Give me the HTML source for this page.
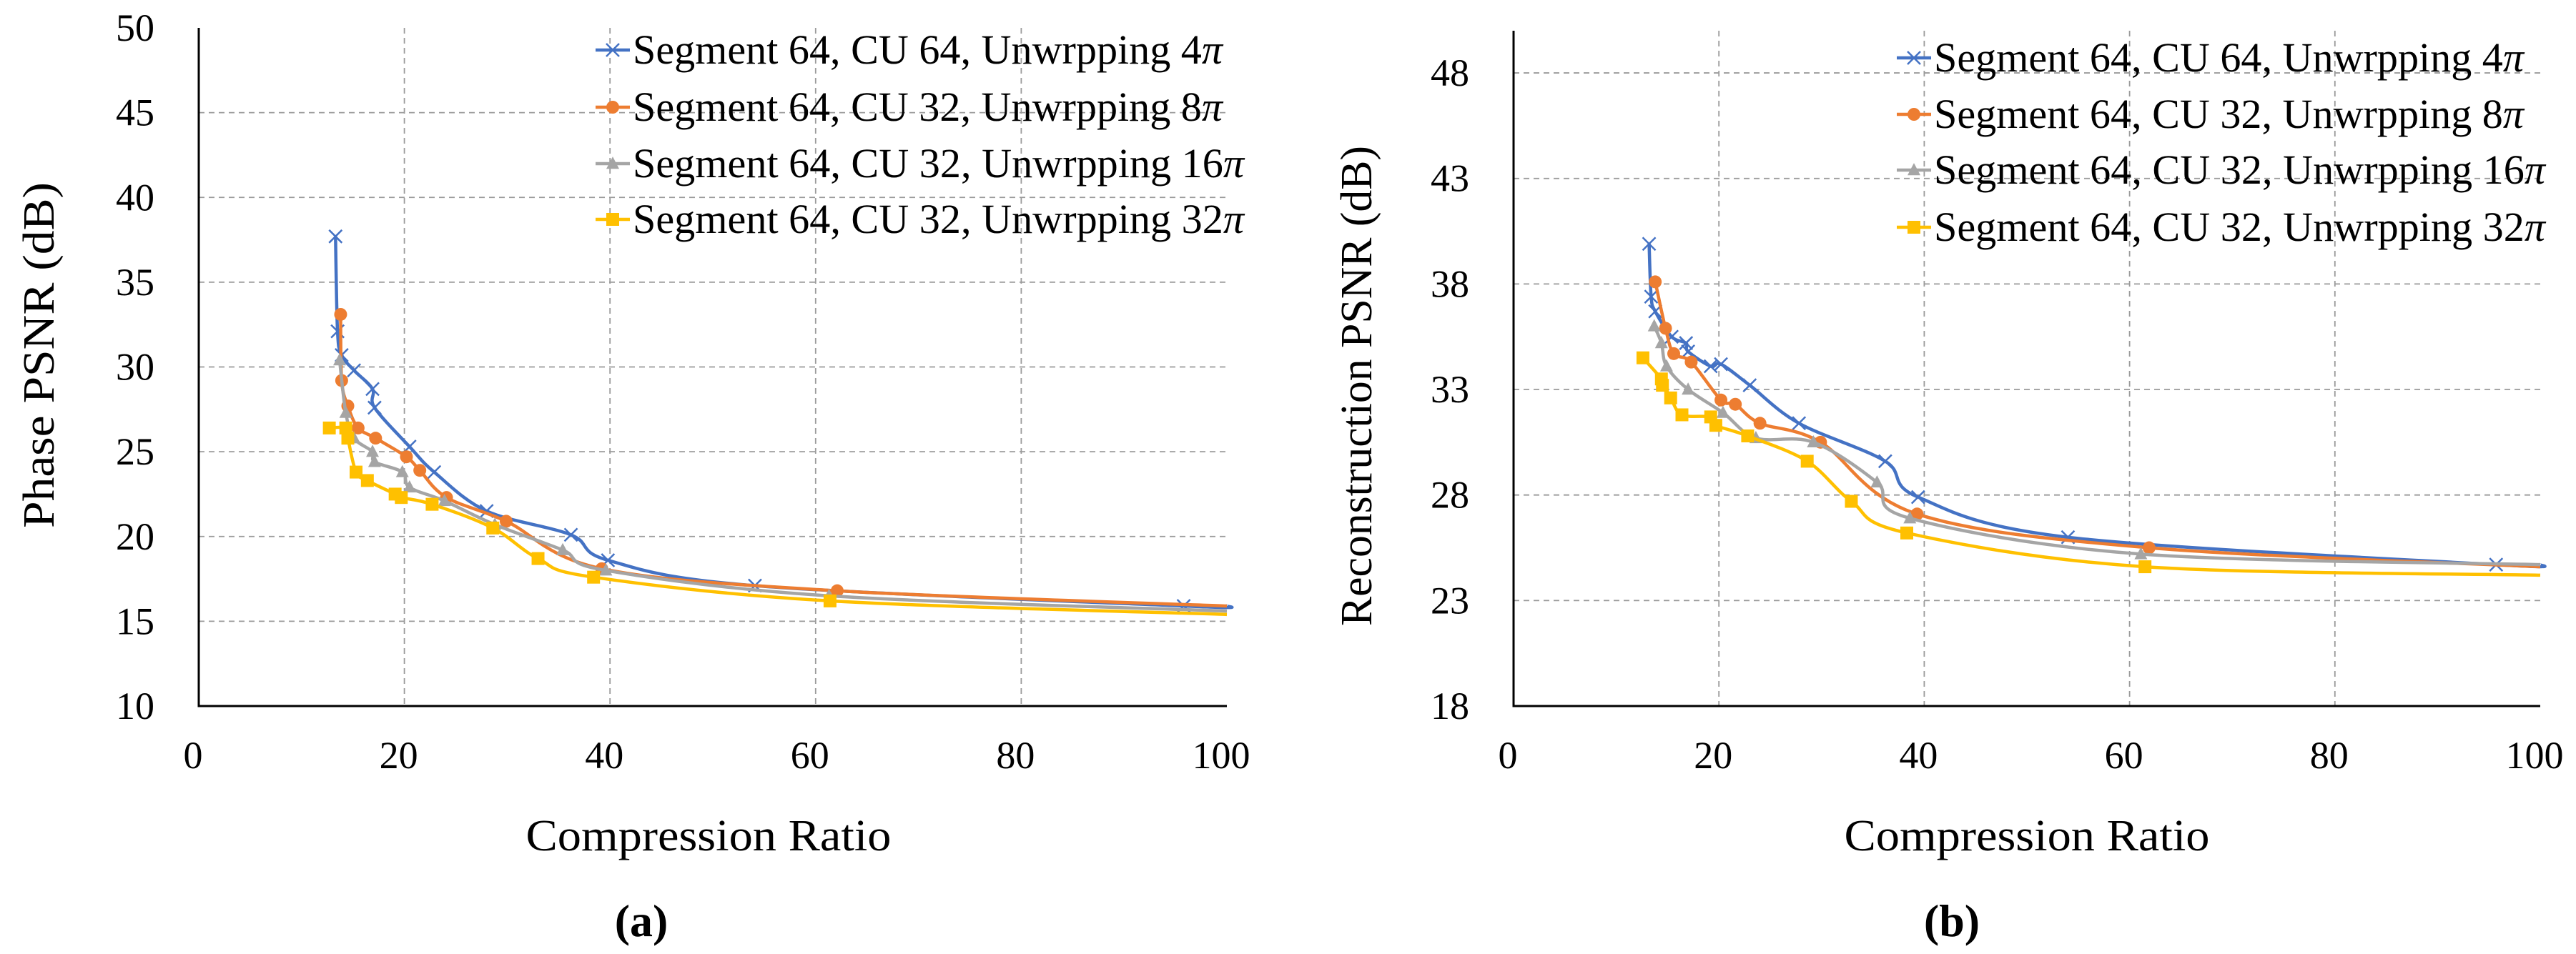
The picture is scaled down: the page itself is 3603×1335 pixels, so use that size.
<!DOCTYPE html>
<html><head><meta charset="utf-8">
<style>
html,body{margin:0;padding:0;background:#fff;}
svg{display:block;}
svg text{font-family:"Liberation Serif","Times New Roman",serif;}
</style></head>
<body>
<svg id="fig" width="3603" height="1335" viewBox="0 0 3603 1335" xmlns="http://www.w3.org/2000/svg" font-family="Liberation Serif, serif">
<rect width="3603" height="1335" fill="#fff"/>
<g id="chartA"></g>
<g id="chartB"></g>
<text x="897" y="1310" font-size="64" font-weight="bold" text-anchor="middle" font-family="Liberation Serif, serif">(a)</text>
<text x="2730" y="1310" font-size="64" font-weight="bold" text-anchor="middle" font-family="Liberation Serif, serif">(b)</text>
</svg>
<script>
const seriesNames = ["Segment 64, CU 64, Unwrpping 4", "Segment 64, CU 32, Unwrpping 8", "Segment 64, CU 32, Unwrpping 16", "Segment 64, CU 32, Unwrpping 32"];
const seriesColors = ["#4472C4", "#ED7D31", "#A5A5A5", "#FFC000"];
const markerShapes = ["x", "circle", "triangle", "square"];
const xTicks = [0, 20, 40, 60, 80, 100];
const yTicksA = [10, 15, 20, 25, 30, 35, 40, 45, 50];
const yTicksB = [18, 23, 28, 33, 38, 43, 48];

// Chart (a): Phase PSNR (last point of each series is the curve end, no marker)
const a4x = [13.3, 13.5, 13.9, 15.1, 16.9, 17.1, 20.5, 22.9, 28.0, 36.2, 39.8, 54.1, 95.8, 100];
const a4y = [37.7, 32.1, 30.7, 29.8, 28.7, 27.6, 25.3, 23.8, 21.5, 20.1, 18.6, 17.1, 15.9, 15.9];
const a8x = [13.8, 13.9, 14.5, 15.5, 17.2, 20.2, 21.5, 24.1, 29.9, 39.2, 62.1, 100];
const a8y = [33.1, 29.2, 27.7, 26.4, 25.8, 24.7, 23.9, 22.3, 20.9, 18.1, 16.8, 15.9];
const a16x = [13.7, 14.3, 15.1, 16.9, 17.1, 19.8, 20.5, 23.9, 28.8, 35.4, 39.6, 61.3, 100];
const a16y = [30.4, 27.3, 25.8, 25.0, 24.4, 23.8, 22.9, 22.1, 20.7, 19.2, 18.0, 16.5, 15.6];
const a32x = [12.7, 14.3, 14.5, 15.3, 16.4, 19.1, 19.7, 22.7, 28.6, 33.0, 38.4, 61.4, 100];
const a32y = [26.4, 26.4, 25.8, 23.8, 23.3, 22.5, 22.3, 21.9, 20.5, 18.7, 17.6, 16.2, 15.4];

// Chart (b): Reconstruction PSNR
const b4x = [13.2, 13.4, 13.8, 15.4, 16.8, 17.0, 19.2, 20.2, 23.0, 27.8, 36.2, 39.4, 54.0, 95.7, 100];
const b4y = [39.9, 37.4, 36.7, 35.5, 35.2, 34.8, 34.1, 34.2, 33.2, 31.4, 29.6, 27.9, 26.0, 24.7, 24.7];
const b8x = [13.8, 14.8, 15.6, 17.3, 20.2, 21.6, 24.0, 29.9, 39.3, 61.9, 100];
const b8y = [38.1, 35.9, 34.7, 34.3, 32.5, 32.3, 31.4, 30.5, 27.1, 25.5, 24.6];
const b16x = [13.7, 14.4, 14.9, 17.0, 20.4, 23.6, 29.2, 35.4, 38.6, 61.1, 100];
const b16y = [36.0, 35.2, 34.1, 33.0, 31.9, 30.7, 30.5, 28.6, 26.9, 25.2, 24.7];
const b32x = [12.6, 14.4, 14.5, 15.3, 16.4, 19.2, 19.7, 22.8, 28.6, 32.9, 38.3, 61.5, 100];
const b32y = [34.5, 33.5, 33.2, 32.6, 31.8, 31.7, 31.3, 30.8, 29.6, 27.7, 26.2, 24.6, 24.2];

const NS = "http://www.w3.org/2000/svg";
const FF = "Liberation Serif, serif";
function mk(tag, attrs, parent) {
  const e = document.createElementNS(NS, tag);
  for (const k in attrs) e.setAttribute(k, attrs[k]);
  if (tag === "text") e.setAttribute("font-family", FF);
  parent.appendChild(e);
  return e;
}
function smoothPath(pts) {
  let d = "M" + pts[0][0].toFixed(1) + "," + pts[0][1].toFixed(1);
  for (let i = 0; i < pts.length - 1; i++) {
    const p0 = pts[Math.max(0, i - 1)], p1 = pts[i], p2 = pts[i + 1], p3 = pts[Math.min(pts.length - 1, i + 2)];
    const t = 0.5 / 3;
    const c1 = [p1[0] + (p2[0] - p0[0]) * t, p1[1] + (p2[1] - p0[1]) * t];
    const c2 = [p2[0] - (p3[0] - p1[0]) * t, p2[1] - (p3[1] - p1[1]) * t];
    d += " C" + c1[0].toFixed(1) + "," + c1[1].toFixed(1) + " " + c2[0].toFixed(1) + "," + c2[1].toFixed(1) + " " + p2[0].toFixed(1) + "," + p2[1].toFixed(1);
  }
  return d;
}
function marker(g, shape, cx, cy, color, s) {
  let m;
  if (shape === "x") {
    m = mk("path", {d: `M${cx-s},${cy-s}L${cx+s},${cy+s}M${cx-s},${cy+s}L${cx+s},${cy-s}`, stroke: color, "stroke-width": 2.5, fill: "none"}, g);
  } else if (shape === "circle") {
    m = mk("circle", {cx: cx, cy: cy, r: s, fill: color}, g);
  } else if (shape === "triangle") {
    m = mk("path", {d: `M${cx},${cy-s*1.1}L${cx+s},${cy+s*0.8}L${cx-s},${cy+s*0.8}Z`, fill: color}, g);
  } else {
    m = mk("rect", {x: cx - s, y: cy - s, width: 2 * s, height: 2 * s, fill: color}, g);
  }
  return m;
}

function drawChart(g, cfg) {
  const X = v => cfg.x0 + (v - 0) / 100 * (cfg.x1 - cfg.x0);
  const Y = v => cfg.yb - (v - cfg.ymin) / (cfg.ymax - cfg.ymin) * (cfg.yb - cfg.yt);
  cfg.yTicks.forEach(t => {
    if (t !== cfg.ymin && Y(t) > cfg.yt + 5) {
      const l = mk("line", {x1: cfg.x0, x2: cfg.x1, y1: Y(t), y2: Y(t), stroke: "#9a9a9a", "stroke-width": 1.8, "stroke-dasharray": "8,6"}, g);
      
      
    }
    const tx = mk("text", {x: cfg.x0 - 62, y: Y(t) + 18, "font-size": 54, "text-anchor": "end"}, g);
    tx.textContent = t;
    
    
  });
  xTicks.forEach(t => {
    if (t !== 0 && t !== 100) {
      const l = mk("line", {x1: X(t), x2: X(t), y1: cfg.yt, y2: cfg.yb, stroke: "#9a9a9a", "stroke-width": 1.8, "stroke-dasharray": "8,6"}, g);
      
      
    }
    const tx = mk("text", {x: X(t) - 8, y: cfg.yb + 87, "font-size": 54, "text-anchor": "middle"}, g);
    tx.textContent = t;
    
    
  });
  const ax = mk("path", {d: `M${cfg.x0},${cfg.yt}L${cfg.x0},${cfg.yb}L${cfg.x1},${cfg.yb}`, stroke: "#000", "stroke-width": 3, fill: "none"}, g);
  
  
  cfg.series.forEach((s, i) => {
    const sg = mk("g", {}, g);
    
    
    const pts = s[0].map((v, k) => [X(v), Y(s[1][k])]);
    const p = mk("path", {d: smoothPath(pts), stroke: seriesColors[i], "stroke-width": 4.5, fill: "none"}, sg);
    
    
    for (let k = 0; k < pts.length - 1; k++) {
      const m = marker(sg, markerShapes[i], pts[k][0], pts[k][1], seriesColors[i], 9);
      
      
    }
  });
  seriesNames.forEach((n, i) => {
    const ly = cfg.legY[i];
    const lg = mk("g", {}, g);
    
    
    mk("line", {x1: cfg.legX, x2: cfg.legX + 48, y1: ly, y2: ly, stroke: seriesColors[i], "stroke-width": 4.5}, lg);
    marker(lg, markerShapes[i], cfg.legX + 24, ly, seriesColors[i], 9);
    const t = mk("text", {x: cfg.legX + 52, y: ly + 19, "font-size": 58, textLength: cfg.legW[i], lengthAdjust: "spacingAndGlyphs"}, lg);
    t.textContent = n;
    const ts = mk("tspan", {"font-style": "italic"}, t);
    ts.textContent = "π";
  });
  const xt = mk("text", {x: cfg.xTitleX, y: 1190, "font-size": 62, "text-anchor": "middle", textLength: 511, lengthAdjust: "spacingAndGlyphs"}, g);
  xt.textContent = "Compression Ratio";
  
  
  const yt = mk("text", {x: 0, y: 0, "font-size": 62, "text-anchor": "middle", transform: `translate(${cfg.yTitleX},${cfg.yTitleY}) rotate(-90)`, textLength: cfg.yTitleLen, lengthAdjust: "spacingAndGlyphs"}, g);
  yt.textContent = cfg.yTitle;
  
  
}

drawChart(document.getElementById("chartA"), {
  x0: 278, x1: 1716, yt: 39, yb: 988, ymin: 10, ymax: 50, yTicks: yTicksA,
  series: [[a4x, a4y], [a8x, a8y], [a16x, a16y], [a32x, a32y]],
  legX: 833, legY: [70, 150, 229, 307], legW: [825, 825, 855, 855],
  xTitleX: 991, yTitleX: 75, yTitleY: 497, yTitleLen: 484, yTitle: "Phase PSNR (dB)"
});
drawChart(document.getElementById("chartB"), {
  x0: 2117, x1: 3553, yt: 43, yb: 988, ymin: 18, ymax: 50, yTicks: yTicksB,
  series: [[b4x, b4y], [b8x, b8y], [b16x, b16y], [b32x, b32y]],
  legX: 2653, legY: [81, 160, 238, 318], legW: [825, 825, 855, 855],
  xTitleX: 2835, yTitleX: 1918, yTitleY: 540, yTitleLen: 672, yTitle: "Reconstruction PSNR (dB)"
});
</script>
</body></html>
